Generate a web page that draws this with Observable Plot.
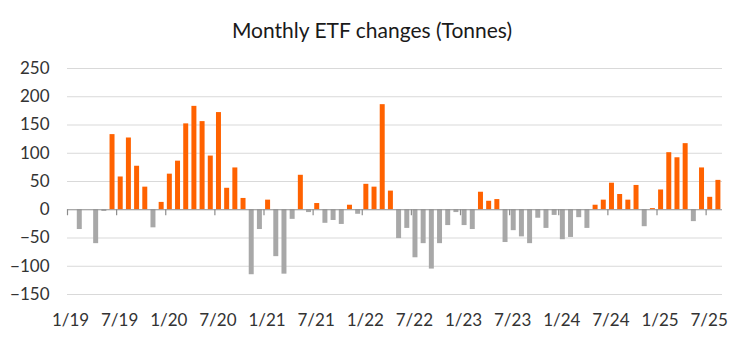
<!DOCTYPE html>
<html>
<head>
<meta charset="utf-8">
<script src="https://cdn.jsdelivr.net/npm/d3@7"></script>
<script src="https://cdn.jsdelivr.net/npm/@observablehq/plot@0.6"></script>
<style>
  html, body { margin: 0; padding: 0; background: #fff; }
  body { width: 744px; height: 358px; overflow: hidden; font-family: Lato, "Open Sans", sans-serif; }
  #title { height: 50px; box-sizing: border-box; padding-top: 19px; line-height: 22px; text-align: center; font-size: 21px; color: #1a1a1a; }
  #chart svg { display: block; }
</style>
</head>
<body>
<div id="title">Monthly ETF changes (Tonnes)</div>
<div id="chart"></div>
<script>
// Monthly ETF changes in tonnes, Jan 2019 to Aug 2025 (one value per month)
const months = [
  "1/19","2/19","3/19","4/19","5/19","6/19","7/19","8/19","9/19","10/19","11/19","12/19",
  "1/20","2/20","3/20","4/20","5/20","6/20","7/20","8/20","9/20","10/20","11/20","12/20",
  "1/21","2/21","3/21","4/21","5/21","6/21","7/21","8/21","9/21","10/21","11/21","12/21",
  "1/22","2/22","3/22","4/22","5/22","6/22","7/22","8/22","9/22","10/22","11/22","12/22",
  "1/23","2/23","3/23","4/23","5/23","6/23","7/23","8/23","9/23","10/23","11/23","12/23",
  "1/24","2/24","3/24","4/24","5/24","6/24","7/24","8/24","9/24","10/24","11/24","12/24",
  "1/25","2/25","3/25","4/25","5/25","6/25","7/25","8/25"
];
const tonnes = [
  0, -35, 0, -60, -3, 133, 58, 127, 77, 40, -32, 13,
  63, 86, 152, 183, 156, 95, 172, 38, 74, 20, -115, -35,
  17, -83, -114, -17, 61, -5, 11, -24, -19, -26, 8, -8,
  45, 40, 186, 33, -51, -33, -85, -60, -105, -60, -28, -5,
  -28, -35, 31, 15, 18, -58, -37, -48, -60, -15, -33, -10,
  -53, -49, -14, -33, 8, 17, 47, 27, 17, 43, -30, 2,
  35, 101, 92, 117, -21, 74, 22, 52
];
const tickLabels = ["1/19","7/19","1/20","7/20","1/21","7/21","1/22","7/22","1/23","7/23","1/24","7/24","1/25","7/25"];
const yTicks = [-150, -100, -50, 0, 50, 100, 150, 200, 250];

const ORANGE = "#FF6200";
const GREY = "#A8A8A8";
const AXIS = "#8C8C8C";
const GRID = "#D9D9D9";
const TEXT = "#333333";

const data = tonnes.map((v, i) => ({i, month: months[i], v, sign: v >= 0 ? "in" : "out"}));
const tickIdx = tickLabels.map(l => months.indexOf(l));
const labelOf = new Map(tickIdx.map((i, k) => [i, tickLabels[k]]));

const chart = Plot.plot({
  width: 744,
  height: 308,
  marginTop: 18,
  marginBottom: 64,
  marginLeft: 67,
  marginRight: 22,
  style: {fontFamily: "Lato, 'Open Sans', sans-serif", fontSize: "17px", color: TEXT, background: "#fff"},
  x: {type: "linear", domain: [0, months.length], axis: null, label: null},
  y: {domain: [-150, 250], axis: null, label: null},
  color: {domain: ["in", "out"], range: [ORANGE, GREY]},
  marks: [
    Plot.gridY(yTicks.filter(t => t !== 0), {stroke: GRID, strokeOpacity: 1, strokeWidth: 1.2}),
    Plot.rectY(data, {x: "i", interval: 1, y: "v", fill: "sign", insetLeft: 1.6, insetRight: 1.6}),
    Plot.ruleY([0], {stroke: AXIS, strokeWidth: 1.2}),
    Plot.ruleX(tickIdx, {x: d => d, y1: 0, y2: 0, insetBottom: -6, stroke: AXIS, strokeWidth: 1.2}),
    Plot.axisY(yTicks, {tickSize: 0, tickPadding: 18, fill: TEXT, fontSize: 17, label: null}),
    Plot.axisX(tickIdx, {tickSize: 0, tickPadding: 19, tickFormat: d => labelOf.get(d), fill: TEXT, fontSize: 17, dx: 3, label: null})
  ]
});
document.getElementById("chart").appendChild(chart);
</script>
</body>
</html>
